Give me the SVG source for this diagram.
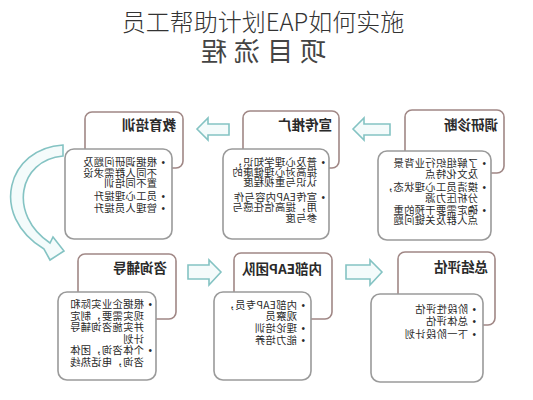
<svg xmlns="http://www.w3.org/2000/svg" width="533" height="400" viewBox="0 0 533 400">
<style>
.hd{fill:#fff;stroke:#a08785;stroke-width:1.6}
.bd{fill:#fff;stroke:#9a9a9a;stroke-width:1.6}
.ar{fill:#f4fbfb;stroke:#84c3c3;stroke-width:1.6;stroke-linejoin:miter}
.t{font-family:"Noto Sans CJK SC","Noto Sans",sans-serif;font-size:13.5px;font-weight:bold;fill:#2a2a2a}
.c{font-family:"Noto Sans CJK SC","Noto Sans",sans-serif;font-size:10.3px;fill:#2a2a2a;letter-spacing:0.3px}
.b{font-family:"Liberation Sans",sans-serif;font-size:10px;fill:#2a2a2a}
</style>
<rect width="533" height="400" fill="#fff"/>
<text x="263" y="31" text-anchor="middle" font-family="'Noto Sans CJK SC',sans-serif" font-size="24" font-weight="300" fill="#333">员工帮助计划EAP如何实施</text>
<text transform="matrix(-1 0 0 1 326 0)" y="61" font-family="'Noto Sans CJK SC',sans-serif" font-size="26" letter-spacing="7" fill="#444">项目流程</text>

<g id="connectors">
<path class="ar" d="M197,129 L208,118 L208,124 L229,124 L229,135 L208,135 L208,140 Z"/>
<path class="ar" d="M353,129 L364,118 L364,124 L390,124 L390,135 L364,135 L364,140 Z"/>
<path class="ar" d="M221,272 L209,260 L209,265 L188,265 L188,279 L209,279 L209,285 Z"/>
<path class="ar" d="M382,272 L370,260 L370,265 L346,265 L346,279 L370,279 L370,285 Z"/>
<path class="ar" d="M63,145 C8,148 -12,215 44,249 L50,260 L64,251 L53,237 L50,243 C8,215 18,160 63,156 Z"/>
</g>

<g id="n-diaoyan">
<rect class="hd" x="405" y="110" width="99" height="63" rx="7"/>
<rect class="bd" x="378" y="151" width="113" height="89" rx="9"/>
<text class="t" transform="matrix(-1 0 0 1 498 0)" y="130">调研诊断</text>
<text class="b" transform="matrix(-1 0 0 1 486 0)" y="167">•</text>
<text class="c" transform="matrix(-1 0 0 1 478 0)" y="167">了解组织行业背景</text>
<text class="c" transform="matrix(-1 0 0 1 478 0)" y="177.5">及文化特点</text>
<text class="b" transform="matrix(-1 0 0 1 486 0)" y="191">•</text>
<text class="c" transform="matrix(-1 0 0 1 478 0)" y="191">摸清员工心理状态，</text>
<text class="c" transform="matrix(-1 0 0 1 478 0)" y="201.5">分析压力源</text>
<text class="b" transform="matrix(-1 0 0 1 486 0)" y="214">•</text>
<text class="c" transform="matrix(-1 0 0 1 478 0)" y="214">确定需要干预的重</text>
<text class="c" transform="matrix(-1 0 0 1 478 0)" y="224">点人群及关键问题</text>
</g>

<g id="n-xuanchuan">
<rect class="hd" x="243" y="111" width="96" height="57" rx="7"/>
<rect class="bd" x="223" y="149" width="106" height="90" rx="9"/>
<text class="t" transform="matrix(-1 0 0 1 332 0)" y="130">宣传推广</text>
<text class="b" transform="matrix(-1 0 0 1 325 0)" y="166">•</text>
<text class="c" transform="matrix(-1 0 0 1 317 0)" y="166">普及心理学知识，</text>
<text class="c" transform="matrix(-1 0 0 1 317 0)" y="176">提高对心理健康的</text>
<text class="c" transform="matrix(-1 0 0 1 317 0)" y="186">认识与重视程度</text>
<text class="b" transform="matrix(-1 0 0 1 325 0)" y="201">•</text>
<text class="c" transform="matrix(-1 0 0 1 317 0)" y="201">宣传EAP内容与作</text>
<text class="c" transform="matrix(-1 0 0 1 317 0)" y="211">用，提高信任感与</text>
<text class="c" transform="matrix(-1 0 0 1 317 0)" y="222">参与度</text>
</g>

<g id="n-jiaoyu">
<rect class="hd" x="85" y="112" width="98" height="56" rx="7"/>
<rect class="bd" x="65" y="149" width="107" height="90" rx="9"/>
<text class="t" transform="matrix(-1 0 0 1 176 0)" y="130">教育培训</text>
<text class="b" transform="matrix(-1 0 0 1 165 0)" y="166">•</text>
<text class="c" transform="matrix(-1 0 0 1 157 0)" y="166">根据调研问题及</text>
<text class="c" transform="matrix(-1 0 0 1 157 0)" y="176.5">不同人群需求设</text>
<text class="c" transform="matrix(-1 0 0 1 157 0)" y="187">置不同培训</text>
<text class="b" transform="matrix(-1 0 0 1 165 0)" y="200">•</text>
<text class="c" transform="matrix(-1 0 0 1 157 0)" y="200">员工心理提升</text>
<text class="b" transform="matrix(-1 0 0 1 165 0)" y="211.5">•</text>
<text class="c" transform="matrix(-1 0 0 1 157 0)" y="211.5">管理人员提升</text>
</g>

<g id="n-zixun">
<rect class="hd" x="78" y="254" width="98" height="65" rx="7"/>
<rect class="bd" x="58" y="292" width="98" height="88" rx="9"/>
<text class="t" transform="matrix(-1 0 0 1 167 0)" y="273">咨询辅导</text>
<text class="b" transform="matrix(-1 0 0 1 152 0)" y="308">•</text>
<text class="c" transform="matrix(-1 0 0 1 144 0)" y="308">根据企业实际和</text>
<text class="c" transform="matrix(-1 0 0 1 144 0)" y="319.5">现实需要，制定</text>
<text class="c" transform="matrix(-1 0 0 1 144 0)" y="331">并实施咨询辅导</text>
<text class="c" transform="matrix(-1 0 0 1 144 0)" y="342.5">计划</text>
<text class="b" transform="matrix(-1 0 0 1 152 0)" y="354">•</text>
<text class="c" transform="matrix(-1 0 0 1 144 0)" y="354">个体咨询，团体</text>
<text class="c" transform="matrix(-1 0 0 1 144 0)" y="365.5">咨询，电话热线</text>
</g>

<g id="n-neibu">
<rect class="hd" x="234" y="253" width="98" height="66" rx="7"/>
<rect class="bd" x="214" y="292" width="97" height="88" rx="9"/>
<text class="t" transform="matrix(-1 0 0 1 322 0)" y="274">内部EAP团队</text>
<text class="b" transform="matrix(-1 0 0 1 305 0)" y="309">•</text>
<text class="c" transform="matrix(-1 0 0 1 297 0)" y="309">内部EAP专员，</text>
<text class="c" transform="matrix(-1 0 0 1 297 0)" y="320">观察员</text>
<text class="b" transform="matrix(-1 0 0 1 305 0)" y="332">•</text>
<text class="c" transform="matrix(-1 0 0 1 297 0)" y="332">理论培训</text>
<text class="b" transform="matrix(-1 0 0 1 305 0)" y="344">•</text>
<text class="c" transform="matrix(-1 0 0 1 297 0)" y="344">能力培养</text>
</g>

<g id="n-zongjie">
<rect class="hd" x="398" y="252" width="97" height="73" rx="7"/>
<rect class="bd" x="371" y="294" width="112" height="88" rx="9"/>
<text class="t" transform="matrix(-1 0 0 1 488 0)" y="272">总结评估</text>
<text class="b" transform="matrix(-1 0 0 1 476 0)" y="313">•</text>
<text class="c" transform="matrix(-1 0 0 1 468 0)" y="313">阶段性评估</text>
<text class="b" transform="matrix(-1 0 0 1 476 0)" y="325">•</text>
<text class="c" transform="matrix(-1 0 0 1 468 0)" y="325">总体评估</text>
<text class="b" transform="matrix(-1 0 0 1 476 0)" y="338">•</text>
<text class="c" transform="matrix(-1 0 0 1 468 0)" y="338">下一阶段计划</text>
</g>
</svg>
